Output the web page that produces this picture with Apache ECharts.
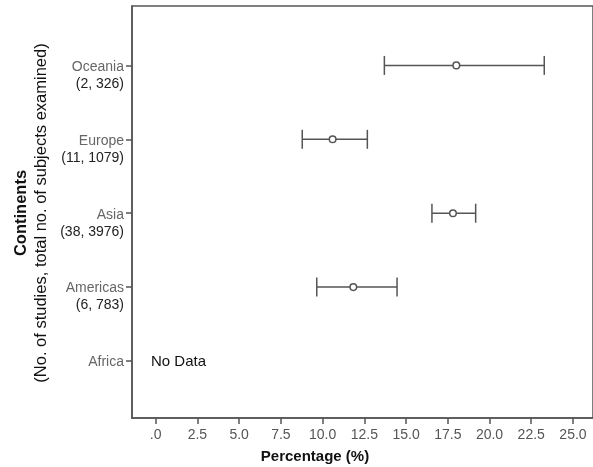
<!DOCTYPE html>
<html>
<head>
<meta charset="utf-8">
<script src="https://cdn.jsdelivr.net/npm/echarts@6/dist/echarts.min.js"></script>
<style>html,body{margin:0;padding:0;background:#fff}#c{width:593px;height:467px}</style>
</head>
<body>
<div id="c"></div>
<script>
// Categories bottom-to-top
const continents = ['Africa', 'Americas', 'Asia', 'Europe', 'Oceania'];
const studyInfo = ['', '(6, 783)', '(38, 3976)', '(11, 1079)', '(2, 326)'];
// Percentage estimates with 95% CI (null = no data)
const lowerCI = [null, 9.65, 16.55, 8.78, 13.70];
const meanPct = [null, 11.84, 17.81, 10.60, 18.01];
const upperCI = [null, 14.46, 19.17, 12.68, 23.28];
const xTicks = [0, 2.5, 5, 7.5, 10, 12.5, 15, 17.5, 20, 22.5, 25];
const noDataText = 'No Data';

const FONT = 'Arial, "Liberation Sans", sans-serif';
const LINE = '#555555';

const barData = [];
continents.forEach((c, i) => {
  if (meanPct[i] != null) barData.push([i, lowerCI[i], meanPct[i], upperCI[i]]);
});

const chart = echarts.init(document.getElementById('c'), null, {renderer: 'canvas'});
chart.setOption({
  animation: false,
  backgroundColor: '#fff',
  grid: {left: 132, top: 6, right: -3, bottom: 49, show: true, borderColor: LINE, borderWidth: 1.5, backgroundColor: 'transparent'},
  xAxis: {
    type: 'value', min: -1.42, max: 26.2,
    splitLine: {show: false},
    axisLine: {show: true, onZero: false, lineStyle: {color: LINE, width: 1.5}},
    axisTick: {show: true, length: 6, customValues: xTicks, lineStyle: {color: LINE, width: 1.5}},
    axisLabel: {
      customValues: xTicks, margin: 10, color: '#555', fontSize: 14, fontFamily: FONT,
      formatter: v => v === 0 ? '.0' : v.toFixed(1)
    }
  },
  yAxis: {
    type: 'value', min: -0.771, max: 4.804,
    splitLine: {show: false},
    axisLine: {show: true, onZero: false, lineStyle: {color: LINE, width: 1.5}},
    axisTick: {show: true, length: 6, customValues: [0, 1, 2, 3, 4], lineStyle: {color: LINE, width: 1.5}},
    axisLabel: {
      customValues: [0, 1, 2, 3, 4], margin: 8, fontFamily: FONT, fontSize: 14,
      formatter: v => {
        const i = Math.round(v);
        return '{a|' + continents[i] + '}\n{b|' + (studyInfo[i] || ' ') + '}';
      },
      rich: {
        a: {color: '#666', fontSize: 14, fontFamily: FONT, lineHeight: 17, align: 'right'},
        b: {color: '#222', fontSize: 14, fontFamily: FONT, lineHeight: 17, align: 'right'}
      },
      padding: [20, 0, 0, 0]
    }
  },
  series: [{
    type: 'custom',
    data: barData,
    encode: {x: [1, 2, 3], y: 0},
    renderItem: function (params, api) {
      const y = api.value(0);
      const pL = api.coord([api.value(1), y]);
      const pM = api.coord([api.value(2), y]);
      const pH = api.coord([api.value(3), y]);
      const cap = 9.5;
      const st = {stroke: LINE, lineWidth: 1.5};
      return {
        type: 'group',
        children: [
          {type: 'line', shape: {x1: pL[0], y1: pL[1], x2: pH[0], y2: pH[1]}, style: st},
          {type: 'line', shape: {x1: pL[0], y1: pL[1] - cap, x2: pL[0], y2: pL[1] + cap}, style: st},
          {type: 'line', shape: {x1: pH[0], y1: pH[1] - cap, x2: pH[0], y2: pH[1] + cap}, style: st},
          {type: 'circle', shape: {cx: pM[0], cy: pM[1], r: 3.3}, style: {fill: '#fff', stroke: LINE, lineWidth: 1.5}}
        ]
      };
    }
  }],
  graphic: [
    {type: 'text', left: 151, top: 354, style: {text: noDataText, font: '15px ' + FONT, fill: '#111'}},
    {type: 'text', x: 21, y: 213, rotation: Math.PI / 2,
     style: {text: 'Continents', font: 'bold 16.5px ' + FONT, fill: '#111', align: 'center', verticalAlign: 'middle'}},
    {type: 'text', x: 41, y: 213, rotation: Math.PI / 2,
     style: {text: '(No. of studies, total no. of subjects examined)', font: '16.5px ' + FONT, fill: '#111', align: 'center', verticalAlign: 'middle'}},
    {type: 'text', x: 315, y: 457,
     style: {text: 'Percentage (%)', font: 'bold 15px ' + FONT, fill: '#111', align: 'center', verticalAlign: 'middle'}}
  ]
});
</script>
</body>
</html>
